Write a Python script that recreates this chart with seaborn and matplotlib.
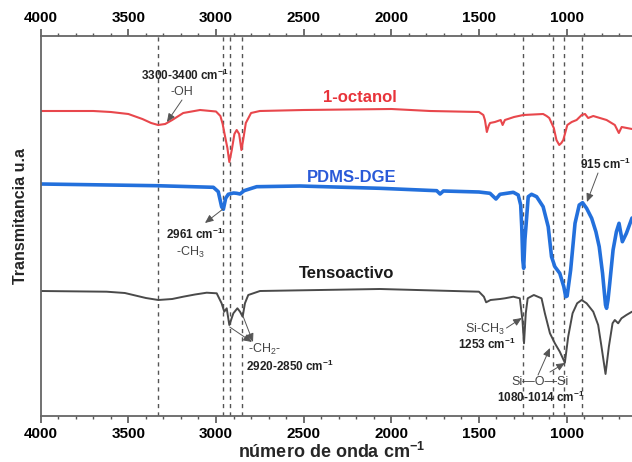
import numpy as np
import pandas as pd
import matplotlib
matplotlib.use("Agg")
import matplotlib.pyplot as plt
from matplotlib.ticker import MultipleLocator
import seaborn as sns

# ---------------- data ----------------
oct_wn = [4000, 3700, 3600, 3500, 3420, 3370, 3330, 3290, 3250, 3187, 3091, 3000, 2975, 2962, 2950, 2935,
          2924, 2910, 2895, 2882, 2868, 2855, 2845, 2830, 2800, 2750, 2500, 2000, 1779, 1500,
          1475, 1466, 1455, 1445, 1437, 1409, 1376, 1365, 1352, 1300, 1247, 1134, 1114, 1099,
          1073, 1058, 1042, 1030, 1019, 996, 971, 943, 914, 895, 877, 848, 772, 725, 702, 686, 627]
oct_t = [305, 305, 304, 302, 297, 293, 291, 292, 296, 303, 306, 304.5, 300, 292, 281, 268,
         254, 266, 282, 286, 282, 266, 276, 293, 303, 305, 306, 307, 305, 304,
         301, 296, 284, 290, 293, 294, 296, 291, 296, 299, 301, 302, 300, 298,
         288, 276, 271, 273, 276, 291, 294, 296, 301, 302, 298, 300, 296, 291, 283, 289, 287]

pdms_wn = [4000, 3339, 3015, 2987, 2968, 2958, 2945, 2930, 2900, 2882, 2863, 2840, 2768, 2521,
           2065, 1741, 1722, 1703, 1500, 1437, 1403, 1380, 1342, 1304, 1276, 1262, 1256, 1250,
           1245, 1238, 1232, 1219, 1200, 1171, 1134, 1105, 1086, 1067, 1039, 1016, 1005, 997,
           977, 952, 928, 909, 886, 857, 833, 814, 795, 778, 772, 764, 754, 735, 716, 701, 682,
           659, 627]
pdms_t = [232, 230.3, 228.7, 224.3, 209.3, 206.7, 217.7, 221.7, 223, 222.7, 222, 225.3, 229.3, 230,
          227.7, 225.3, 222, 225, 224, 222.7, 217, 221.7, 222.7, 223.7, 221, 211, 189.3, 156,
          147.7, 176, 189.3, 219.3, 221.7, 219.3, 209.3, 189.3, 159.3, 149.3, 142.7, 129.3, 119.3, 120,
          146, 192.7, 211, 213.3, 207.7, 197.7, 184.3, 169.3, 142.7, 111, 107.7, 116, 132.7, 166, 184.3, 192.7, 174.3,
          182.7, 198]

tens_wn = [4000, 3624, 3520, 3472, 3400, 3329, 3250, 3187, 3120, 3053, 2996, 2968, 2953, 2939, 2924, 2901,
           2878, 2863, 2848, 2835, 2816, 2749, 2065, 1500, 1472, 1459, 1434, 1380, 1352, 1304,
           1267, 1252, 1243, 1233, 1222, 1187, 1143, 1124, 1095, 1067, 1039, 1010, 991, 966,
           940, 914, 886, 848, 820, 801, 778, 759, 738, 725, 706, 687, 659, 627]
tens_t = [125, 124.3, 123, 121, 118, 116, 117, 119.3, 121.5, 123.3, 122.7, 112.7, 104.3, 107.7, 91, 102.7,
          107.7, 104.3, 99.3, 112.7, 121, 125, 127, 124.3, 119.3, 113.7, 116, 117, 117.7, 119.3,
          117.7, 96, 72.7, 102.7, 117.7, 121, 117.7, 102.7, 82.7, 72.7, 64.3, 53.3, 79.3, 102.7,
          112.7, 116, 112.7, 104.3, 91, 69.3, 42, 69.3, 92.7, 96, 92.7, 97.7, 101, 104.3]

series_names = ["1-octanol", "PDMS-DGE", "Tensoactivo"]
series_colors = ["#e8474c", "#2370dc", "#4a4a4a"]
label_colors = ["#e8333a", "#2a5ad8", "#1a1a1a"]
ref_lines = [3330, 2960, 2922, 2852, 1250, 1077, 1016, 910]
tick_values = [4000, 3500, 3000, 2500, 2000, 1500, 1000]

df = pd.concat([
    pd.DataFrame({"wn": oct_wn, "T": oct_t, "serie": series_names[0]}),
    pd.DataFrame({"wn": pdms_wn, "T": pdms_t, "serie": series_names[1]}),
    pd.DataFrame({"wn": tens_wn, "T": tens_t, "serie": series_names[2]}),
])

# ---------------- figure ----------------
sns.set_style("ticks")
plt.rcParams["font.family"] = ["Liberation Sans", "DejaVu Sans"]
plt.rcParams["mathtext.fontset"] = "custom"
plt.rcParams["mathtext.rm"] = "Liberation Sans"
plt.rcParams["mathtext.it"] = "Liberation Sans:italic"
plt.rcParams["mathtext.bf"] = "Liberation Sans:bold"

fig = plt.figure(figsize=(6.32, 4.62), dpi=100)
ax = fig.add_axes([40.7 / 632, 46 / 462, 1 - 40.7 / 632, 380 / 462])

widths = {"1-octanol": 1.5, "PDMS-DGE": 2.6, "Tensoactivo": 1.4}
for name, col in zip(series_names, series_colors):
    sub = df[df["serie"] == name]
    sns.lineplot(data=sub, x="wn", y="T", color=col, lw=widths[name], ax=ax,
                 sort=False, estimator=None, legend=False)

for w in ref_lines:
    ax.axvline(w, color="#555555", lw=1.0, ls=(0, (3, 3)), zorder=0)

ax.set_xlim(4000, 627)
ax.set_ylim(0, 380)
ax.set_xticks(tick_values)
ax.xaxis.set_minor_locator(MultipleLocator(100))
ax.set_yticks([])
ax.tick_params(axis="x", which="both", top=True, labeltop=True, bottom=True,
               direction="out", colors="#555555", labelcolor="black")
ax.tick_params(axis="x", which="major", length=5, width=1.2, labelsize=11, pad=3)
ax.tick_params(axis="x", which="minor", length=2.5, width=1.0)
for lab in ax.get_xticklabels():
    lab.set_fontweight("bold")
for s in ["left", "top", "bottom"]:
    ax.spines[s].set_color("#666666")
    ax.spines[s].set_linewidth(1.3)
ax.spines["right"].set_visible(False)

ax.set_xlabel("")
ax.set_ylabel("")
fig.text(332 / 632, 1 - 452 / 462, r"número de onda cm$^{\mathbf{-1}}$", ha="center", va="center",
         fontsize=13, fontweight="bold")
fig.text(20.7 / 632, 1 - 216.5 / 462, "Transmitancia u.a", ha="center", va="center",
         rotation=90, fontsize=11.5, fontweight="bold")

# series labels
ax.text(2179, 319, series_names[0], color=label_colors[0], fontsize=12, fontweight="bold",
        ha="center", va="center")
ax.text(2224, 239, series_names[1], color=label_colors[1], fontsize=12, fontweight="bold",
        ha="center", va="center")
ax.text(2253, 143, series_names[2], color=label_colors[2], fontsize=12, fontweight="bold",
        ha="center", va="center")

# annotations
bold_kw = dict(fontsize=8.5, fontweight="bold", ha="center", va="center", color="#222222")
norm_kw = dict(fontsize=9, ha="center", va="center", color="#444444")
arrow_kw = dict(arrowstyle="-|>,head_length=0.5,head_width=0.22", color="#555555", lw=0.7,
                shrinkA=0, shrinkB=0)

def arrow(head, tail):
    ax.annotate("", xy=head, xytext=tail, arrowprops=arrow_kw)

SUP = r"$^{\mathbf{-1}}$"

ax.text(3177, 341, "3300-3400 cm" + SUP, **bold_kw)
ax.text(3196, 324, "-OH", **norm_kw)
arrow((3280, 294), (3194, 316))

ax.text(3120, 182, "2961 cm" + SUP, **bold_kw)
ax.text(3148, 164, r"-CH$_{\mathrm{3}}$", **norm_kw)
arrow((3063, 193), (2960, 207))

ax.text(2721, 67, r"-CH$_{\mathrm{2}}$-", **norm_kw)
ax.text(2578, 50, "2920-2850 cm" + SUP, **bold_kw)
arrow((2795, 74), (2922, 89))
arrow((2789, 74), (2844, 99))

ax.text(775, 252, "915 cm" + SUP, **bold_kw)
arrow((884, 214), (821, 243))

ax.text(1466, 87, r"Si-CH$_{\mathrm{3}}$", **norm_kw)
ax.text(1454, 72, "1253 cm" + SUP, **bold_kw)
arrow((1256, 98), (1343, 88))

ax.text(1152, 34, "Si—O—Si", **norm_kw)
ax.text(1146, 19, "1080-1014 cm" + SUP, **bold_kw)
arrow((1095, 68), (1163, 41))
arrow((1010, 53), (1095, 44))

fig.savefig("out.png", dpi=100)
